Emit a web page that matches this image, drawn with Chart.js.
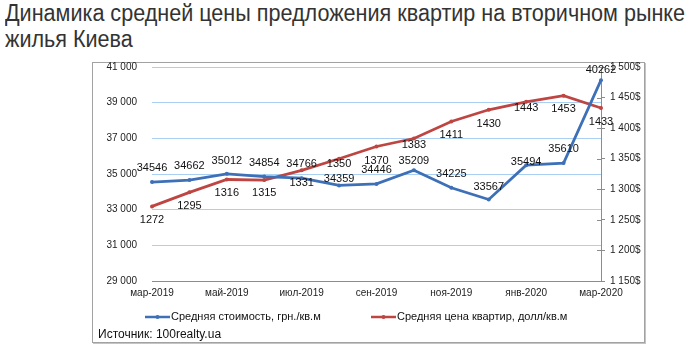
<!DOCTYPE html>
<html lang="ru">
<head>
  <meta charset="UTF-8" />
  <title>Динамика средней цены предложения квартир</title>
  <script src="https://cdn.jsdelivr.net/npm/chart.js"></script>
  <style>
    html, body { margin: 0; padding: 0; background: #fff; }
    .page { position: relative; width: 690px; height: 349px; overflow: hidden; }
    .title {
      position: absolute; left: 5px; white-space: nowrap;
      font-family: "Liberation Sans Narrow", "Liberation Sans", Arial, sans-serif;
      font-size: 23px; line-height: 26px; color: #333;
      transform-origin: 0 0;
    }
    .box {
      position: absolute; left: 92px; top: 62px; width: 553px; height: 281px;
      box-sizing: border-box; border: 1px solid #a2a2a2;
      box-shadow: 1px 1px 0 #c4c4c4;
    }
    #chart { position: absolute; left: 0; top: 0; }
    .source {
      position: absolute; left: 98px; top: 327px;
      font-family: "Liberation Sans", Arial, sans-serif; font-size: 12px; color: #111;
    }
  </style>
</head>
<body>
  <div class="page">
    <div class="title" id="t1" style="top:0px">Динамика средней цены предложения квартир на вторичном рынке</div>
    <div class="title" id="t2" style="top:26px">жилья Киева</div>
    <div class="box"></div>
    <canvas id="chart" width="690" height="349"></canvas>
    <div class="source">Источник: 100realty.ua</div>
  </div>

  <script>
    // months from March 2019 to March 2020
    const months = ['мар-2019', 'апр-2019', 'май-2019', 'июн-2019', 'июл-2019', 'авг-2019', 'сен-2019',
                    'окт-2019', 'ноя-2019', 'дек-2019', 'янв-2020', 'фев-2020', 'мар-2020'];
    const priceUah = [34546, 34662, 35012, 34854, 34766, 34359, 34446, 35209, 34225, 33567, 35494, 35610, 40262];
    const priceUsd = [1272, 1295, 1316, 1315, 1331, 1350, 1370, 1383, 1411, 1430, 1443, 1453, 1433];
    const uahLabel = 'Средняя стоимость, грн./кв.м';
    const usdLabel = 'Средняя цена квартир, долл/кв.м';

    // vertical shift of each value label relative to its point
    const uahLabelDy = [-14, -14, -13, -14, -14, -6, -14, -9, -14, -13, -3, -14, -10];
    const usdLabelDy = [14, 14, 13, 13, 13, 5, 14, 6, 14, 14, 6, 13, 14];

    const BLUE = '#3e70b8';
    const RED = '#be4541';
    const FONT = '"Liberation Sans", Arial, sans-serif';

    // stretch the heading to the full width
    const t1 = document.getElementById('t1');
    const t2 = document.getElementById('t2');
    const k = 680 / t1.getBoundingClientRect().width;
    t1.style.transform = t2.style.transform = `scaleX(${k})`;

    const fmtThousands = v => String(v).replace(/\B(?=(\d{3})+(?!\d))/g, ' ');

    const valueLabels = {
      id: 'valueLabels',
      afterDatasetsDraw(chart) {
        const ctx = chart.ctx;
        ctx.save();
        ctx.font = '11px ' + FONT;
        ctx.fillStyle = '#111';
        ctx.textAlign = 'center';
        ctx.textBaseline = 'middle';
        const shifts = [uahLabelDy, usdLabelDy];
        chart.data.datasets.forEach((ds, di) => {
          chart.getDatasetMeta(di).data.forEach((pt, i) => {
            ctx.fillText(String(ds.data[i]), pt.x, pt.y + shifts[di][i]);
          });
        });
        ctx.restore();
      }
    };

    // right axis tick marks cross the axis line: add the inner half
    const crossTicks = {
      id: 'crossTicks',
      afterDraw(chart) {
        const s = chart.scales.y2;
        const ctx = chart.ctx;
        ctx.save();
        ctx.strokeStyle = '#8c8c8c';
        ctx.lineWidth = 1;
        s.ticks.forEach(t => {
          const y = Math.round(s.getPixelForValue(t.value)) + 0.5;
          ctx.beginPath();
          ctx.moveTo(s.left - 4, y);
          ctx.lineTo(s.left, y);
          ctx.stroke();
        });
        ctx.restore();
      }
    };

    const lineLegend = {
      id: 'lineLegend',
      afterDraw(chart) {
        const ctx = chart.ctx;
        const items = [{ x: 145, ds: chart.data.datasets[0] }, { x: 371, ds: chart.data.datasets[1] }];
        const y = 317;
        ctx.save();
        ctx.font = '11px ' + FONT;
        ctx.textBaseline = 'middle';
        items.forEach(it => {
          ctx.strokeStyle = it.ds.borderColor;
          ctx.lineWidth = 2.5;
          ctx.beginPath();
          ctx.moveTo(it.x, y);
          ctx.lineTo(it.x + 25, y);
          ctx.stroke();
          ctx.fillStyle = it.ds.borderColor;
          ctx.beginPath();
          ctx.arc(it.x + 12.5, y, 2, 0, Math.PI * 2);
          ctx.fill();
          ctx.fillStyle = '#111';
          ctx.fillText(it.ds.label, it.x + 26, y);
        });
        ctx.restore();
      }
    };

    new Chart(document.getElementById('chart'), {
      type: 'line',
      data: {
        labels: months,
        datasets: [
          {
            label: uahLabel, data: priceUah, yAxisID: 'y',
            borderColor: BLUE, backgroundColor: BLUE,
            borderWidth: 2.75, pointRadius: 2, pointBorderWidth: 0, tension: 0
          },
          {
            label: usdLabel, data: priceUsd, yAxisID: 'y2',
            borderColor: RED, backgroundColor: RED,
            borderWidth: 2.75, pointRadius: 2, pointBorderWidth: 0, tension: 0
          }
        ]
      },
      options: {
        responsive: false,
        animation: false,
        layout: { padding: { top: 67, left: 0, right: 0, bottom: 0 } },
        plugins: { legend: { display: false }, tooltip: { enabled: false } },
        scales: {
          x: {
            offset: false,
            grid: { display: false, drawTicks: false },
            border: { display: true, color: '#8c8c8c', width: 1 },
            ticks: {
              autoSkip: false, maxRotation: 0, padding: 6,
              color: '#222', font: { size: 10, family: FONT },
              callback: (v, i) => (i % 2 === 0 ? months[i] : '')
            },
            afterFit: s => { s.height = 68; }
          },
          y: {
            position: 'left',
            min: 29000, max: 41000,
            grid: { color: '#a9cff3', lineWidth: 1, drawTicks: false },
            border: { display: false },
            ticks: {
              stepSize: 2000, padding: 15,
              color: '#222', font: { size: 10, family: FONT },
              callback: v => fmtThousands(v)
            },
            afterFit: s => { s.width = 152; }
          },
          y2: {
            position: 'right',
            min: 1150, max: 1500,
            grid: { drawOnChartArea: false, drawTicks: true, tickLength: 4, color: '#8c8c8c' },
            border: { display: true, color: '#8c8c8c', width: 1 },
            ticks: {
              stepSize: 50, padding: 5,
              color: '#222', font: { size: 10, family: FONT },
              callback: v => fmtThousands(v) + '$'
            },
            afterFit: s => { s.width = 89; }
          }
        }
      },
      plugins: [valueLabels, crossTicks, lineLegend]
    });
  </script>
</body>
</html>
